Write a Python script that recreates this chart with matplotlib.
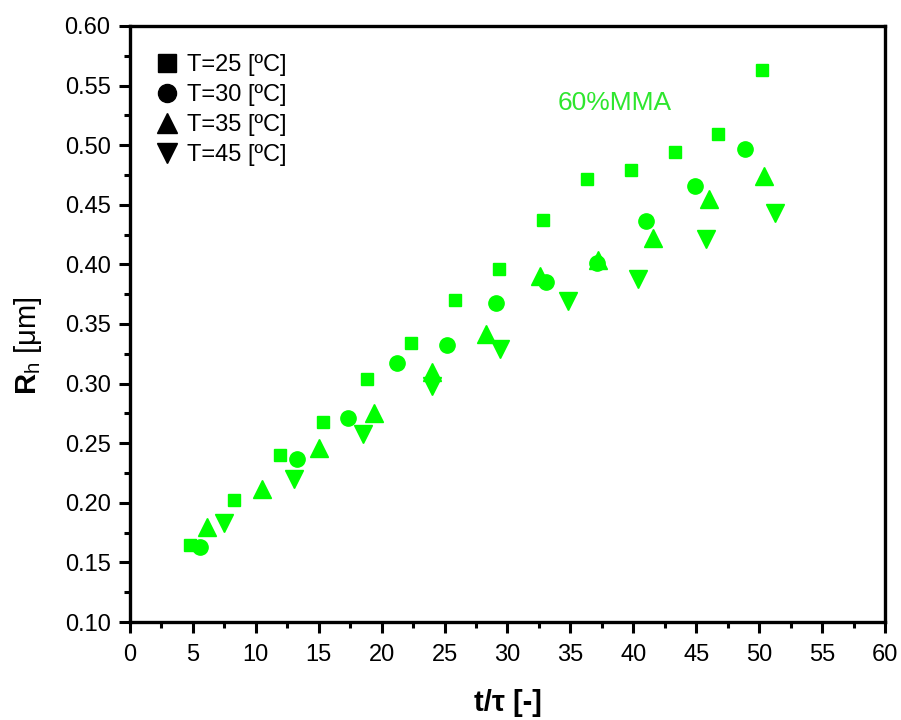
import matplotlib
matplotlib.use("Agg")
import matplotlib.pyplot as plt
from matplotlib.lines import Line2D
from matplotlib.ticker import MultipleLocator, FormatStrFormatter

plt.rcParams['font.family'] = ['Liberation Sans', 'DejaVu Sans']
plt.rcParams['mathtext.fontset'] = 'custom'
plt.rcParams['mathtext.rm'] = 'Liberation Sans'
plt.rcParams['mathtext.bf'] = 'Liberation Sans:bold'

# T = 25 C (squares)
x_t25 = [4.8, 8.3, 11.9, 15.3, 18.8, 22.3, 25.8, 29.3, 32.8, 36.3, 39.8, 43.3, 46.7, 50.2]
y_t25 = [0.165, 0.202, 0.240, 0.268, 0.304, 0.334, 0.370, 0.396, 0.437, 0.472, 0.479, 0.494, 0.509, 0.563]

# T = 30 C (circles)
x_t30 = [5.6, 13.3, 17.3, 21.2, 25.2, 29.1, 33.1, 37.1, 41.0, 44.9, 48.9]
y_t30 = [0.163, 0.237, 0.271, 0.317, 0.332, 0.368, 0.385, 0.401, 0.436, 0.466, 0.497]

# T = 35 C (up triangles)
x_t35 = [6.1, 10.5, 15.0, 19.4, 24.0, 28.3, 32.6, 37.2, 41.6, 46.0, 50.4]
y_t35 = [0.180, 0.212, 0.246, 0.275, 0.310, 0.342, 0.390, 0.404, 0.422, 0.455, 0.474]

# T = 45 C (down triangles)
x_t45 = [7.5, 13.0, 18.5, 24.0, 29.4, 34.8, 40.4, 45.8, 51.3]
y_t45 = [0.183, 0.220, 0.258, 0.298, 0.329, 0.369, 0.388, 0.421, 0.443]

labels = ['T=25 [ºC]', 'T=30 [ºC]', 'T=35 [ºC]', 'T=45 [ºC]']
green = '#00ff00'

fig = plt.figure(figsize=(9.01, 7.2), dpi=100)
ax = fig.add_axes([0.1443, 0.1361, 0.8379, 0.8278])

ax.plot(x_t25, y_t25, 's', color=green, markersize=9.3, linestyle='none')
ax.plot(x_t30, y_t30, 'o', color=green, markersize=11, linestyle='none')
ax.plot(x_t35, y_t35, '^', color=green, markersize=12.5, linestyle='none')
ax.plot(x_t45, y_t45, 'v', color=green, markersize=12.5, linestyle='none')

ax.set_xlim(0, 60)
ax.set_ylim(0.10, 0.60)
ax.xaxis.set_major_locator(MultipleLocator(5))
ax.xaxis.set_minor_locator(MultipleLocator(2.5))
ax.yaxis.set_major_locator(MultipleLocator(0.05))
ax.yaxis.set_minor_locator(MultipleLocator(0.025))
ax.yaxis.set_major_formatter(FormatStrFormatter('%.2f'))

for s in ax.spines.values():
    s.set_linewidth(2.4)
ax.tick_params(which='both', direction='out', top=False, right=False, width=2.2)
ax.tick_params(which='major', length=8, labelsize=17)
ax.tick_params(axis='x', which='major', pad=7.5)
ax.tick_params(axis='y', which='major', pad=6)
ax.tick_params(which='minor', length=4.5)

ax.set_xlabel('t/τ [-]', fontsize=21, fontweight='bold')
ax.xaxis.label.set_va('center')
ax.xaxis.set_label_coords(0.5, -0.136)
ax.set_ylabel(r'$\mathbf{R}_\mathrm{h}$ [μm]', fontsize=21)
ax.yaxis.label.set_va('center')
ax.yaxis.set_label_coords(-0.135, 0.463)

ax.text(38.5, 0.535, '60%MMA', color='#2ee62e', fontsize=19, ha='center', va='center')

handles = [
    Line2D([], [], marker='s', color='black', linestyle='none', markersize=13),
    Line2D([], [], marker='o', color='black', linestyle='none', markersize=13),
    Line2D([], [], marker='^', color='black', linestyle='none', markersize=15),
    Line2D([], [], marker='v', color='black', linestyle='none', markersize=15),
]
ax.legend(handles, labels, loc='upper left', bbox_to_anchor=(0.033, 0.953),
          frameon=False, fontsize=17, handlelength=1.0, handletextpad=0.35,
          labelspacing=0.34, borderpad=0, borderaxespad=0)

fig.savefig('out.png', dpi=100)
